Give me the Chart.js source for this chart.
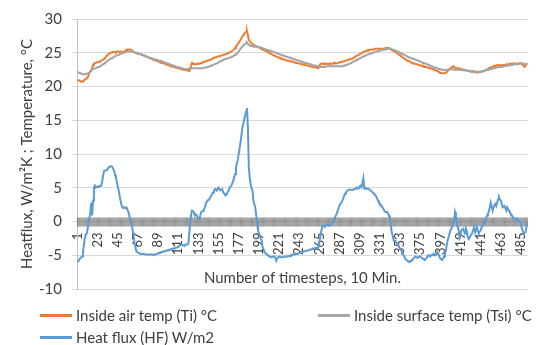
<!DOCTYPE html>
<html>
<head>
<meta charset="utf-8">
<script src="https://cdn.jsdelivr.net/npm/chart.js@4.4.1/dist/chart.umd.min.js"></script>
<style>
  html, body { margin: 0; padding: 0; background: #fff; }
  #wrap { position: relative; width: 554px; height: 345px; font-family: Lato, sans-serif; }
  #wrap canvas { position: absolute; left: 0; top: 0; }
  .legend-item { position: absolute; display: flex; align-items: center; font-size: 15px; line-height: 18px; color: #404040; white-space: nowrap; }
  .legend-item .swatch { display: inline-block; width: 32px; height: 3px; margin-right: 4px; }
</style>
</head>
<body>
<div id="wrap">
  <canvas id="chart" width="554" height="345"></canvas>
</div>
<script>
// timestep categories 1..492 and the labels Excel shows on the axis
const categories = Array.from({ length: 492 }, (_, i) => i + 1);
const tickLabels = [1, 23, 45, 67, 89, 111, 133, 155, 177, 199, 221, 243, 265, 287, 309, 331, 353, 375, 397, 419, 441, 463, 485];
const yTicks = [-10, -5, 0, 5, 10, 15, 20, 25, 30];

// Inside air temp (Ti) °C
const insideAir = [
  21.0, 20.9, 20.9, 20.8, 20.7, 20.7, 20.8, 20.9, 21.0, 21.1,
  21.2, 21.3, 21.6, 22.0, 22.2, 22.4, 22.7, 23.2, 23.4, 23.5,
  23.5, 23.6, 23.6, 23.6, 23.7, 23.7, 23.8, 23.9, 24.0, 24.1,
  24.2, 24.4, 24.5, 24.7, 24.8, 24.9, 25.0, 25.0, 25.1, 25.1,
  25.1, 25.0, 25.1, 25.2, 25.2, 25.2, 25.1, 25.2, 25.2, 25.1,
  25.1, 25.1, 25.3, 25.4, 25.5, 25.5, 25.5, 25.5, 25.5, 25.4,
  25.3, 25.1, 25.1, 25.0, 25.0, 24.9, 24.9, 24.8, 24.8, 24.8,
  24.7, 24.7, 24.6, 24.6, 24.5, 24.4, 24.4, 24.3, 24.3, 24.2,
  24.2, 24.1, 24.0, 24.0, 23.9, 23.9, 23.8, 23.8, 23.7, 23.7,
  23.6, 23.6, 23.5, 23.5, 23.4, 23.4, 23.3, 23.3, 23.2, 23.2,
  23.1, 23.1, 23.0, 23.0, 23.0, 22.9, 22.9, 22.8, 22.8, 22.7,
  22.7, 22.7, 22.6, 22.6, 22.6, 22.5, 22.5, 22.5, 22.4, 22.4,
  22.4, 22.3, 22.3, 22.6, 23.1, 23.5, 23.4, 23.4, 23.3, 23.3,
  23.3, 23.4, 23.3, 23.4, 23.4, 23.5, 23.5, 23.6, 23.6, 23.7,
  23.7, 23.8, 23.8, 23.9, 23.9, 24.0, 24.0, 24.1, 24.2, 24.2,
  24.3, 24.3, 24.4, 24.4, 24.5, 24.5, 24.5, 24.6, 24.6, 24.7,
  24.7, 24.7, 24.8, 24.9, 24.9, 25.0, 25.0, 25.1, 25.2, 25.3,
  25.4, 25.5, 25.7, 25.9, 26.1, 26.3, 26.5, 26.7, 26.9, 27.2,
  27.4, 27.6, 27.8, 28.0, 28.1, 28.2, 27.6, 26.9, 26.7, 26.5,
  26.4, 26.3, 26.2, 26.1, 26.0, 26.0, 25.9, 25.9, 25.8, 25.7,
  25.6, 25.6, 25.5, 25.4, 25.4, 25.3, 25.2, 25.2, 25.1, 25.0,
  24.9, 24.9, 24.8, 24.7, 24.6, 24.6, 24.5, 24.4, 24.4, 24.3,
  24.3, 24.2, 24.2, 24.1, 24.1, 24.0, 24.0, 23.9, 23.9, 23.8,
  23.8, 23.8, 23.7, 23.7, 23.7, 23.7, 23.6, 23.6, 23.5, 23.5,
  23.5, 23.4, 23.4, 23.4, 23.3, 23.3, 23.3, 23.2, 23.2, 23.2,
  23.1, 23.1, 23.1, 23.0, 23.0, 23.0, 22.9, 22.9, 22.9, 22.8,
  22.8, 22.8, 22.7, 22.7, 23.0, 23.3, 23.4, 23.4, 23.3, 23.4,
  23.4, 23.3, 23.4, 23.35, 23.3, 23.4, 23.4, 23.3, 23.4, 23.4,
  23.4, 23.5, 23.4, 23.4, 23.5, 23.5, 23.6, 23.6, 23.6, 23.7,
  23.7, 23.7, 23.8, 23.8, 23.9, 23.9, 24.0, 24.0, 24.1, 24.1,
  24.1, 24.2, 24.3, 24.4, 24.5, 24.5, 24.6, 24.7, 24.8, 24.9,
  24.9, 25.0, 25.1, 25.2, 25.2, 25.3, 25.3, 25.4, 25.4, 25.4,
  25.5, 25.5, 25.5, 25.5, 25.5, 25.6, 25.6, 25.6, 25.6, 25.6,
  25.6, 25.6, 25.6, 25.6, 25.6, 25.6, 25.7, 25.6, 25.7, 25.7,
  25.7, 25.6, 25.5, 25.4, 25.3, 25.3, 25.2, 25.1, 25.0, 24.9,
  24.8, 24.7, 24.6, 24.5, 24.4, 24.3, 24.2, 24.1, 24.0, 23.9,
  23.8, 23.8, 23.7, 23.7, 23.6, 23.5, 23.5, 23.4, 23.4, 23.3,
  23.3, 23.3, 23.2, 23.2, 23.1, 23.1, 23.1, 23.0, 23.0, 22.9,
  22.9, 22.9, 22.8, 22.8, 22.7, 22.7, 22.7, 22.6, 22.6, 22.5,
  22.5, 22.4, 22.3, 22.3, 22.2, 22.1, 22.0, 22.0, 21.95, 21.95,
  21.95, 21.95, 22.0, 22.1, 22.3, 22.4, 22.6, 22.7, 22.8, 22.9,
  23.0, 22.9, 22.8, 22.8, 22.7, 22.7, 22.7, 22.6, 22.6, 22.6,
  22.5, 22.5, 22.5, 22.4, 22.4, 22.4, 22.3, 22.3, 22.3, 22.2,
  22.2, 22.2, 22.2, 22.1, 22.1, 22.2, 22.1, 22.1, 22.1, 22.2,
  22.2, 22.2, 22.2, 22.3, 22.3, 22.4, 22.5, 22.5, 22.6, 22.7,
  22.7, 22.8, 22.9, 22.9, 23.0, 23.1, 23.0, 23.1, 23.2, 23.1,
  23.1, 23.2, 23.1, 23.1, 23.2, 23.2, 23.1, 23.2, 23.3, 23.2,
  23.3, 23.3, 23.3, 23.4, 23.3, 23.4, 23.4, 23.4, 23.4, 23.3,
  23.4, 23.4, 23.4, 23.5, 23.4, 23.4, 23.2, 23.0, 22.9, 23.1,
  23.3, 23.4
];

// Inside surface temp (Tsi) °C
const insideSurface = [
  22.1, 22.1, 22.0, 22.0, 21.9, 21.8, 21.8, 21.8, 21.8, 21.9,
  21.9, 21.9, 22.0, 22.1, 22.2, 22.3, 22.5, 22.6, 22.6, 22.7,
  22.7, 22.8, 22.8, 22.9, 22.9, 23.0, 23.1, 23.2, 23.3, 23.4,
  23.5, 23.6, 23.7, 23.8, 23.9, 24.0, 24.1, 24.2, 24.2, 24.3,
  24.4, 24.5, 24.5, 24.6, 24.65, 24.7, 24.8, 24.8, 24.9, 24.9,
  25.0, 25.0, 25.1, 25.1, 25.1, 25.2, 25.2, 25.2, 25.25, 25.2,
  25.2, 25.1, 25.1, 25.0, 25.0, 25.0, 24.9, 24.9, 24.8, 24.8,
  24.7, 24.7, 24.6, 24.6, 24.5, 24.5, 24.4, 24.4, 24.3, 24.25,
  24.2, 24.2, 24.1, 24.1, 24.0, 24.0, 24.0, 23.9, 23.9, 23.8,
  23.8, 23.8, 23.7, 23.7, 23.6, 23.6, 23.5, 23.5, 23.4, 23.4,
  23.3, 23.3, 23.2, 23.2, 23.1, 23.1, 23.0, 23.0, 22.9, 22.9,
  22.9, 22.8, 22.8, 22.7, 22.7, 22.7, 22.6, 22.6, 22.55, 22.55,
  22.6, 22.6, 22.7, 22.7, 22.7, 22.7, 22.7, 22.7, 22.7, 22.7,
  22.7, 22.7, 22.7, 22.7, 22.7, 22.7, 22.7, 22.7, 22.7, 22.8,
  22.8, 22.8, 22.9, 22.9, 23.0, 23.0, 23.1, 23.1, 23.2, 23.2,
  23.3, 23.4, 23.4, 23.5, 23.6, 23.7, 23.7, 23.8, 23.9, 23.9,
  24.0, 24.0, 24.1, 24.1, 24.2, 24.2, 24.3, 24.3, 24.4, 24.4,
  24.5, 24.6, 24.7, 24.8, 24.9, 25.0, 25.2, 25.4, 25.6, 25.8,
  25.9, 26.1, 26.2, 26.3, 26.4, 26.5, 26.3, 26.2, 26.1, 26.0,
  26.0, 26.0, 25.9, 25.9, 25.9, 25.9, 25.9, 25.9, 25.8, 25.8,
  25.8, 25.7, 25.7, 25.6, 25.6, 25.5, 25.5, 25.4, 25.4, 25.3,
  25.3, 25.3, 25.2, 25.2, 25.15, 25.1, 25.0, 25.0, 24.9, 24.9,
  24.8, 24.8, 24.7, 24.7, 24.6, 24.6, 24.5, 24.5, 24.4, 24.4,
  24.3, 24.3, 24.3, 24.2, 24.2, 24.1, 24.1, 24.0, 24.0, 23.9,
  23.9, 23.8, 23.8, 23.8, 23.7, 23.7, 23.6, 23.6, 23.5, 23.5,
  23.5, 23.4, 23.4, 23.3, 23.3, 23.3, 23.2, 23.2, 23.1, 23.1,
  23.1, 23.0, 23.0, 23.0, 22.9, 22.9, 22.9, 22.9, 22.9, 22.9,
  22.9, 22.9, 23.0, 23.0, 23.0, 23.0, 23.0, 23.0, 23.0, 23.0,
  23.0, 23.0, 23.0, 23.0, 23.0, 23.0, 23.0, 23.0, 23.0, 23.0,
  23.0, 23.1, 23.1, 23.2, 23.2, 23.3, 23.3, 23.4, 23.4, 23.5,
  23.6, 23.7, 23.7, 23.8, 23.9, 24.0, 24.0, 24.1, 24.15, 24.2,
  24.3, 24.4, 24.4, 24.5, 24.6, 24.6, 24.7, 24.7, 24.8, 24.85,
  24.9, 24.9, 25.0, 25.0, 25.1, 25.1, 25.2, 25.2, 25.25, 25.3,
  25.3, 25.35, 25.4, 25.4, 25.45, 25.5, 25.5, 25.5, 25.55, 25.6,
  25.6, 25.6, 25.6, 25.5, 25.5, 25.4, 25.4, 25.3, 25.3, 25.2,
  25.1, 25.1, 25.0, 24.9, 24.9, 24.8, 24.7, 24.7, 24.6, 24.5,
  24.4, 24.4, 24.3, 24.3, 24.2, 24.2, 24.1, 24.1, 24.0, 24.0,
  23.9, 23.9, 23.8, 23.8, 23.7, 23.6, 23.6, 23.5, 23.5, 23.4,
  23.4, 23.3, 23.3, 23.2, 23.2, 23.1, 23.0, 23.0, 22.9, 22.9,
  22.8, 22.8, 22.7, 22.7, 22.6, 22.6, 22.6, 22.5, 22.5, 22.5,
  22.5, 22.45, 22.45, 22.45, 22.5, 22.5, 22.5, 22.55, 22.55, 22.55,
  22.55, 22.5, 22.5, 22.5, 22.5, 22.5, 22.5, 22.45, 22.45, 22.45,
  22.45, 22.4, 22.4, 22.4, 22.4, 22.35, 22.35, 22.3, 22.3, 22.3,
  22.3, 22.3, 22.25, 22.25, 22.2, 22.2, 22.2, 22.2, 22.2, 22.2,
  22.2, 22.25, 22.3, 22.3, 22.35, 22.4, 22.4, 22.45, 22.5, 22.5,
  22.55, 22.6, 22.6, 22.65, 22.7, 22.7, 22.75, 22.8, 22.8, 22.85,
  22.85, 22.9, 22.9, 22.9, 22.9, 23.0, 23.0, 23.0, 23.05, 23.1,
  23.1, 23.1, 23.15, 23.2, 23.2, 23.2, 23.25, 23.3, 23.3, 23.3,
  23.3, 23.3, 23.35, 23.35, 23.35, 23.4, 23.4, 23.3, 23.3, 23.35,
  23.4, 23.4
];

// Heat flux (HF) W/m2
const heatFlux = [
  -5.8, -5.9, -5.6, -5.5, -5.3, -5.2, -4.5, -3.6, -2.4, -2.0,
  -1.8, -1.2, -0.3, 0.5, 1.2, 2.8, 0.9, 3.1, 5.0, 5.3,
  5.0, 5.1, 5.2, 5.1, 5.2, 5.3, 5.3, 6.0, 6.8, 7.5,
  7.5, 7.6, 7.6, 7.8, 8.0, 8.1, 8.2, 8.2, 8.1, 7.8,
  7.5, 6.9, 6.5, 5.8, 5.2, 4.6, 3.8, 3.1, 2.5, 2.1,
  2.0, 2.1, 2.0, 2.1, 1.9, 1.6, 1.2, 0.6, 0.2, -0.3,
  -1.2, -1.8, -3.0, -3.6, -4.3, -4.5, -4.6, -4.7, -4.7, -4.8,
  -4.8, -4.8, -4.8, -4.8, -4.9, -4.9, -4.9, -4.9, -4.9, -4.9,
  -4.9, -4.9, -4.9, -5.0, -4.9, -4.9, -4.8, -4.8, -4.7, -4.7,
  -4.6, -4.6, -4.5, -4.5, -4.4, -4.4, -4.4, -4.3, -4.3, -4.3,
  -4.2, -4.2, -4.1, -4.1, -4.0, -4.0, -4.0, -3.9, -3.9, -3.8,
  -3.8, -3.6, -3.5, -3.4, -3.5, -3.5, -3.5, -3.6, -3.4, -3.4,
  -3.4, -3.3, -1.8, -0.3, 1.0, 1.6, 1.5, 1.4, 0.9, 1.1,
  1.0, 0.6, 0.5, 0.4, 0.9, 1.4, 1.5, 1.6, 1.8, 2.1,
  2.6, 2.9, 3.1, 3.2, 3.3, 3.6, 3.8, 4.1, 4.3, 4.6,
  4.8, 4.8, 4.6, 4.8, 5.0, 4.8, 4.6, 4.7, 4.8, 4.3,
  4.2, 4.0, 4.0, 4.0, 4.4, 4.6, 5.0, 5.2, 5.3, 5.7,
  6.0, 6.6, 7.0, 8.0, 8.6, 9.2, 10.0, 10.9, 11.8, 12.8,
  13.9, 14.5, 15.1, 15.7, 16.3, 16.8, 13.9, 8.0, 6.5, 5.5,
  4.9, 4.6, 3.1, 2.6, 2.1, 1.0, 0.1, -1.3, -1.7, -2.1,
  -2.5, -2.8, -3.8, -4.1, -4.5, -4.7, -4.8, -4.9, -5.0, -5.1,
  -5.2, -5.3, -5.3, -5.2, -5.2, -5.2, -5.4, -5.8, -5.5, -5.3,
  -5.2, -5.2, -5.3, -5.3, -5.3, -5.3, -5.2, -5.2, -5.2, -5.2,
  -5.2, -5.1, -5.1, -5.0, -5.0, -4.9, -4.9, -4.9, -4.8, -4.8,
  -4.8, -4.7, -4.7, -4.6, -4.6, -4.5, -4.5, -4.4, -4.4, -4.4,
  -4.3, -4.3, -4.3, -4.2, -4.2, -4.1, -4.1, -4.0, -4.0, -4.0,
  -3.9, -3.9, -3.9, -3.8, -3.0, -2.3, -1.5, -0.8, -0.6, -0.7,
  -0.8, -0.6, -0.4, -0.5, -0.6, -0.6, -0.5, -0.4, -0.3, -0.1,
  0.4, 0.6, 0.9, 1.2, 1.6, 2.0, 2.4, 2.6, 2.8, 3.1,
  3.4, 3.8, 4.1, 4.3, 4.5, 4.6, 4.7, 4.7, 4.7, 4.7,
  4.7, 4.7, 4.8, 4.8, 4.9, 5.0, 4.9, 4.9, 5.2, 5.3,
  5.1, 5.7, 6.4, 4.9, 5.0, 4.8, 4.9, 4.9, 4.8, 4.7,
  4.6, 4.5, 4.3, 4.2, 4.1, 3.9, 3.7, 3.4, 3.1, 2.8,
  2.6, 2.5, 2.2, 2.1, 1.8, 1.6, 1.4, 1.4, 1.4, 1.1,
  0.9, 0.2, -0.6, -1.6, -2.1, -2.8, -2.8, -2.9, -3.1, -3.3,
  -3.5, -3.8, -4.0, -4.2, -4.5, -4.8, -5.0, -5.3, -5.6, -5.7,
  -5.8, -5.9, -6.0, -5.9, -5.8, -5.7, -5.6, -5.4, -5.3, -5.2,
  -5.3, -5.4, -5.3, -5.2, -5.2, -5.3, -5.4, -5.5, -5.6, -5.7,
  -5.5, -5.4, -5.2, -5.0, -5.1, -5.2, -5.0, -4.9, -5.0, -4.8,
  -4.9, -5.0, -4.8, -4.5, -4.8, -5.2, -5.5, -5.6, -5.7, -5.5,
  -5.2, -4.8, -4.3, -3.5, -2.8, -2.3, -1.8, -1.3, -1.0, -0.8,
  -0.2, 0.1, 1.4, 0.9, -0.3, -0.8, -1.3, -2.3, -1.8, -1.3,
  -1.2, -1.1, -1.5, -1.8, -1.1, -1.5, -2.3, -2.6, -2.4, -2.1,
  -1.9, -1.6, -1.2, -0.8, -1.6, -1.2, -0.8, -1.4, -1.8, -1.5,
  -1.3, -0.9, -0.6, -0.4, -0.3, 0.1, 0.5, 0.9, 1.1, 1.6,
  2.1, 2.8, 2.2, 1.6, 2.1, 2.4, 2.6, 2.3, 2.8, 3.3,
  3.6, 3.3, 3.1, 2.6, 2.1, 2.2, 2.3, 2.0, 1.6, 2.1,
  1.8, 1.6, 1.3, 1.1, 0.9, 0.7, 0.4, 0.4, 0.4, 0.4,
  0.4, 0.1, 0.1, -0.1, -0.3, -1.1, -1.4, -1.8, -1.7, -1.6,
  -0.8, -0.1
];

const seriesNames = ["Inside air temp (Ti) °C", "Inside surface temp (Tsi) °C", "Heat flux (HF) W/m2"];
const seriesColors = ["#ED7D31", "#A5A5A5", "#5B9BD5"];

const textColor = "#404040";
const fontFamily = "Lato, 'Noto Sans', sans-serif";

// Excel draws a "cross" tick mark for every category on the zero line
const crossTicks = {
  id: "crossTicks",
  beforeDatasetsDraw(chart) {
    const { ctx, scales } = chart;
    const y0 = scales.y.getPixelForValue(0);
    ctx.save();
    ctx.lineWidth = 1;
    ctx.strokeStyle = "rgba(95,95,95,0.6)";
    categories.forEach((c, i) => {
      const px = scales.x.getPixelForValue(i);
      ctx.beginPath();
      ctx.moveTo(px, y0 - 4);
      ctx.lineTo(px, y0 + 5);
      ctx.stroke();
    });
    ctx.restore();
  }
};

const ctx = document.getElementById("chart");
new Chart(ctx, {
  type: "line",
  data: {
    labels: categories,
    datasets: [
      { label: seriesNames[0], data: insideAir, borderColor: seriesColors[0], order: 3 },
      { label: seriesNames[1], data: insideSurface, borderColor: seriesColors[1], order: 2 },
      { label: seriesNames[2], data: heatFlux, borderColor: seriesColors[2], order: 1 }
    ]
  },
  options: {
    responsive: false,
    animation: false,
    datasets: {
      line: { borderWidth: 2, pointRadius: 0, tension: 0, fill: false }
    },
    layout: { padding: { top: 17, right: 5, bottom: 56, left: 0 } },
    plugins: {
      legend: { display: false },
      tooltip: { enabled: false }
    },
    scales: {
      x: {
        type: "category",
        position: { y: 0 },
        offset: true,
        grid: { display: false, drawTicks: false },
        border: { display: false },
        ticks: {
          autoSkip: false,
          minRotation: 90,
          maxRotation: 90,
          padding: 11,
          color: textColor,
          font: { family: fontFamily, size: 13 },
          callback: (value, index) => tickLabels.includes(categories[index]) ? String(categories[index]) : ""
        },
        title: {
          display: true,
          text: "Number of timesteps, 10 Min.",
          color: textColor,
          font: { family: fontFamily, size: 15 },
          padding: 0
        },
        afterFit: (scale) => { scale.height = 66; }
      },
      y: {
        min: yTicks[0],
        max: yTicks[yTicks.length - 1],
        afterBuildTicks: (scale) => { scale.ticks = yTicks.map(v => ({ value: v })); },
        ticks: {
          padding: 10,
          color: textColor,
          font: { family: fontFamily, size: 15 }
        },
        grid: { color: "#d9d9d9", tickLength: 5, tickColor: "#d9d9d9" },
        border: { display: true, color: "#bfbfbf" },
        title: {
          display: true,
          text: "Heatflux, W/m²K ; Temperature, °C",
          color: textColor,
          font: { family: fontFamily, size: 15 },
          padding: { top: 18, bottom: 0 }
        },
        afterFit: (scale) => { scale.width = 77; }
      }
    }
  },
  plugins: [crossTicks]
});

// Legend laid out in Excel's two columns
const legendPos = [[40, 306], [318, 306], [40, 328]];
const wrap = document.getElementById("wrap");
seriesNames.forEach((name, i) => {
  const item = document.createElement("div");
  item.className = "legend-item";
  item.style.left = legendPos[i][0] + "px";
  item.style.top = legendPos[i][1] + "px";
  item.innerHTML = `<span class="swatch" style="background:${seriesColors[i]}"></span>`;
  item.appendChild(document.createTextNode(name));
  wrap.appendChild(item);
});
</script>
</body>
</html>
